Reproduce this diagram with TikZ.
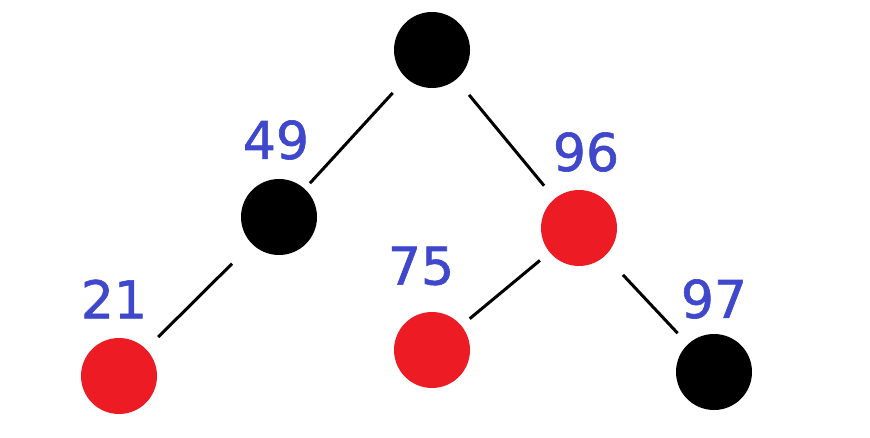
\documentclass[tikz,border=0pt]{standalone}
\usepackage{fontspec}
\newfontfamily\labfont[FakeBold=1.2]{DejaVu Sans}
\definecolor{rbred}{HTML}{ED1C24}
\definecolor{lblue}{HTML}{3F48CC}
\begin{document}
\begin{tikzpicture}[x=1pt,y=-1pt,
  rbnode/.style={circle,minimum size=76pt,inner sep=0pt,draw=none},
  blk/.style={rbnode,fill=black},
  rd/.style={rbnode,fill=rbred},
  keylab/.style={font=\labfont\fontsize{52}{52}\selectfont,text=lblue,inner sep=0pt},
  edge/.style={draw=black,line width=3pt}]
\useasboundingbox (0,0) rectangle (870,438);
\fill[white] (0,0) rectangle (870,438);
\node[blk] (root) at (432,50) {};
\node[blk] (n49) at (279,217) {};
\node[rd] (n96) at (579,228) {};
\node[rd] (n21) at (119,376) {};
\node[rd] (n75) at (432,350) {};
\node[blk] (n97) at (714,372) {};
\node[keylab] (l49) at (276,140) {49};
\node[keylab] (l96) at (586,152) {96};
\node[keylab] (l75) at (421,266) {75};
\node[keylab] (l21) at (114,299) {21};
\node[keylab] (l97) at (714,299) {97};
\draw[edge,shorten <=20pt,shorten >=7.6pt] (root) -- (n49);
\draw[edge,shorten <=20pt,shorten >=16.6pt] (root) -- (n96);
\draw[edge,shorten <=28pt,shorten >=17pt] (n49) -- (n21);
\draw[edge,shorten <=12.6pt,shorten >=10.8pt] (n96) -- (n75);
\draw[edge,shorten <=26pt,shorten >=15pt] (n96) -- (n97);
\end{tikzpicture}
\end{document}
